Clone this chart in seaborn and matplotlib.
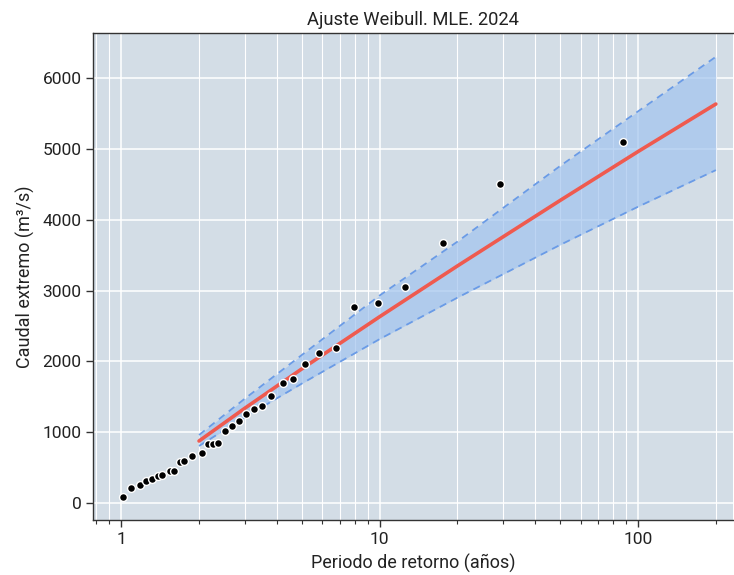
import numpy as np
import pandas as pd
import matplotlib
matplotlib.use("Agg")
import matplotlib.pyplot as plt
import seaborn as sns
from matplotlib.ticker import LogLocator, FixedLocator, NullFormatter

# Observed data (return period in years, extreme discharge m3/s)
obs_T = [1.015, 1.093, 1.179, 1.249, 1.321, 1.390, 1.437, 1.547, 1.604, 1.69,
         1.745, 1.877, 2.051, 2.158, 2.263, 2.378, 2.525, 2.68, 2.844, 3.04,
         3.25, 3.52, 3.80, 4.22, 4.64, 5.15, 5.85, 6.79, 7.99, 9.83,
         12.55, 17.6, 29.3, 87.7]
obs_Q = [89, 208, 254, 311, 339, 374, 395, 456, 456, 583,
         593, 664, 702, 829, 833, 843, 1017, 1091, 1162, 1256,
         1323, 1374, 1515, 1690, 1746, 1958, 2122, 2193, 2763, 2820,
         3054, 3667, 4499, 5092]

# Fitted Weibull (MLE) curve and confidence band
fit_T = [2, 3, 5, 10, 20, 50, 100, 200]
fit_Q = [875, 1335, 1894, 2630, 3347, 4273, 4962, 5633]
upper_Q = [960, 1470, 2090, 2930, 3690, 4760, 5530, 6300]
lower_Q = [805, 1208, 1686, 2314, 2899, 3645, 4183, 4700]

title = "Ajuste Weibull. MLE. 2024"
xlabel = "Periodo de retorno (años)"
ylabel = "Caudal extremo (m³/s)"

sns.set_theme(style="darkgrid", rc={
    "axes.facecolor": "#d3dde6",
    "grid.color": "white",
    "axes.edgecolor": "#333333",
})
plt.rcParams["font.family"] = ["Roboto", "DejaVu Sans"]

fig = plt.figure(figsize=(7.34, 5.75), dpi=100)
ax = fig.add_axes([0.127, 0.0957, 0.8716, 0.8469])

df_fit = pd.DataFrame({"T": fit_T, "Q": fit_Q, "up": upper_Q, "lo": lower_Q})
df_obs = pd.DataFrame({"T": obs_T, "Q": obs_Q})

ax.fill_between(df_fit["T"], df_fit["lo"], df_fit["up"], color="#a2c4ef", alpha=0.7,
                linewidth=0, zorder=2)
sns.lineplot(data=df_fit, x="T", y="up", ax=ax, color="#6a9be6", linewidth=1.3,
             linestyle=(0, (4, 3)), zorder=3)
sns.lineplot(data=df_fit, x="T", y="lo", ax=ax, color="#6a9be6", linewidth=1.3,
             linestyle=(0, (4, 3)), zorder=3)
sns.lineplot(data=df_fit, x="T", y="Q", ax=ax, color="#ef5a4f", linewidth=2.6, zorder=4)
sns.scatterplot(data=df_obs, x="T", y="Q", ax=ax, color="black", s=32,
                edgecolor="white", linewidth=1.0, zorder=5)

ax.set_xscale("log")
ax.set_xlim(0.779, 233)
ax.set_ylim(-240, 6636)
ax.set_yticks([0, 1000, 2000, 3000, 4000, 5000, 6000])
ax.xaxis.set_major_locator(FixedLocator([1, 10, 100]))
ax.set_xticklabels(["1", "10", "100"])
ax.xaxis.set_minor_locator(LogLocator(base=10, subs=np.arange(2, 10)))
ax.xaxis.set_minor_formatter(NullFormatter())

ax.grid(True, which="major", color="white", linewidth=1.1)
ax.grid(True, which="minor", axis="x", color="white", linewidth=0.8)
ax.set_axisbelow(True)

ax.tick_params(axis="both", which="major", direction="out", length=5, width=1,
               color="#333333", labelsize=12.5, labelcolor="#222222",
               bottom=True, left=True)
ax.tick_params(axis="x", which="minor", direction="out", length=3, width=0.8,
               color="#333333", bottom=True)

for side in ["left", "bottom", "top"]:
    ax.spines[side].set_visible(True)
    ax.spines[side].set_color("#333333")
    ax.spines[side].set_linewidth(1.0)
ax.spines["right"].set_visible(False)

ax.set_xlabel(xlabel, fontsize=13, color="#222222", labelpad=5)
ax.set_ylabel(ylabel, fontsize=13, color="#222222", labelpad=5)
ax.set_title(title, fontsize=13.2, color="#222222", pad=6)

fig.savefig("out.png", dpi=100)
